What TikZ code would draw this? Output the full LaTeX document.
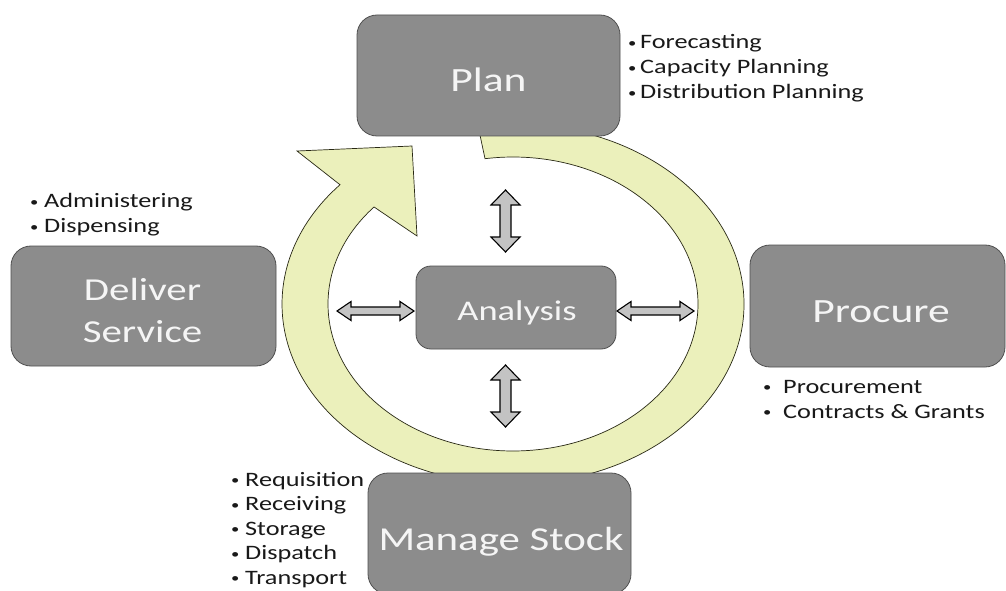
\documentclass[tikz,border=0pt]{standalone}
\usepackage{fontspec}
\setmainfont{Carlito}[FakeStretch=1.28]
\usetikzlibrary{calc}
\definecolor{boxfill}{RGB}{140,140,140}
\definecolor{boxline}{RGB}{80,80,80}
\definecolor{ringfill}{RGB}{235,240,187}
\definecolor{ringline}{RGB}{40,40,20}
\definecolor{arrfill}{RGB}{195,195,195}
\definecolor{boxtext}{RGB}{245,245,245}
\newcommand\mylistdot[1]{\makebox[#1][c]{\raisebox{1.2pt}{\fontsize{13}{13}\selectfont •}}}
\tikzset{
  box/.style={draw=boxline, fill=boxfill, line width=0.8pt, rounded corners=20pt, inner sep=0pt},
  bigtxt/.style={text=boxtext, inner sep=0pt, anchor=base},
  bul/.style={text=black!90, inner sep=0pt, anchor=base west, font=\fontsize{20.5}{25}\selectfont},
  dbl/.style={draw=black, fill=arrfill, line width=1.1pt, line join=miter},
  vdbl/.pic={\path[dbl] (0,31) -- (14.5,16) -- (5.5,16) -- (5.5,-16) -- (14.5,-16) -- (0,-31)
      -- (-14.5,-16) -- (-5.5,-16) -- (-5.5,16) -- (-14.5,16) -- cycle;},
  hdbl/.pic={\path[dbl] (38.5,0) -- (24.5,9.5) -- (24.5,4) -- (-24.5,4) -- (-24.5,9.5) -- (-38.5,0)
      -- (-24.5,-9.5) -- (-24.5,-4) -- (24.5,-4) -- (24.5,-9.5) -- cycle;}
}
\begin{document}
\begin{tikzpicture}[x=1pt,y=1pt]
\useasboundingbox (0,0) rectangle (1006,590);
\fill[white] (0,0) rectangle (1006,590);
\clip (0,0) rectangle (1006,590);
% circular arrow
\coordinate (C) at (513,286);
\coordinate (barbA) at (297,439);
\coordinate (tip) at (412,444);
\coordinate (barbB) at (417,354);
\filldraw[fill=ringfill, draw=ringline, line width=0.7pt, line join=miter]
  ($(C)+(98.7:231pt and 180pt)$) arc[start angle=98.7, end angle=-221.5, x radius=231pt, y radius=180pt]
  -- (barbA) -- (tip) -- (barbB)
  -- ($(C)+(-221.3:185pt and 147pt)$) arc[start angle=-221.3, end angle=98.7, x radius=185pt, y radius=147pt]
  -- cycle;
% boxes
\node[box, minimum width=263pt, minimum height=121pt] (plan) at (488.5,514.5) {};
\node[box, minimum width=265pt, minimum height=120pt] (deliver) at (143.5,284) {};
\node[box, minimum width=255pt, minimum height=122pt] (procure) at (877.5,284) {};
\node[box, rounded corners=15pt, minimum width=200pt, minimum height=83pt] (analysis) at (516,282.5) {};
\node[box, minimum width=263pt, minimum height=121pt] (stock) at (499.5,56.5) {};
% box texts
\node[bigtxt, font=\fontsize{34}{40}\selectfont] (plan-t) at ($(plan.center)+(0,-16)$) {Plan};
\node[bigtxt, font=\fontsize{32}{40}\selectfont] (deliver-t1) at ($(deliver.center)+(-1,6)$) {Deliver};
\node[bigtxt, font=\fontsize{32}{40}\selectfont] (deliver-t2) at ($(deliver.center)+(-1,-36)$) {Service};
\node[bigtxt, font=\fontsize{34}{40}\selectfont] (procure-t) at (881,268) {Procure};
\node[bigtxt, font=\fontsize{28.5}{34}\selectfont] (analysis-t) at (517,270) {Analysis};
\node[bigtxt, font=\fontsize{33.5}{40}\selectfont] (stock-t) at (501,40) {Manage Stock};
% double arrows
\pic (up) at (505.5,369) {vdbl};
\pic (down) at (505.5,194) {vdbl};
\pic (left) at (375.5,279) {hdbl};
\pic (right) at (655.5,279) {hdbl};
% bullet lists
\node[bul] (p1) at (624,541) {\mylistdot{16pt}Forecasting};
\node[bul] (p2) at (624,516) {\mylistdot{16pt}Capacity Planning};
\node[bul] (p3) at (624,491) {\mylistdot{16pt}Distribution Planning};
\node[bul] (d1) at (24,382) {\mylistdot{20pt}Administering};
\node[bul] (d2) at (24,357) {\mylistdot{20pt}Dispensing};
\node[bul] (r1) at (751,197) {\mylistdot{32pt}Procurement};
\node[bul] (r2) at (751,172) {\mylistdot{32pt}Contracts \& Grants};
\node[bul] (s1) at (225,104) {\mylistdot{20pt}Requisition};
\node[bul] (s2) at (225,79.5) {\mylistdot{20pt}Receiving};
\node[bul] (s3) at (225,55) {\mylistdot{20pt}Storage};
\node[bul] (s4) at (225,30.5) {\mylistdot{20pt}Dispatch};
\node[bul] (s5) at (225,6) {\mylistdot{20pt}Transport};
\end{tikzpicture}
\end{document}
